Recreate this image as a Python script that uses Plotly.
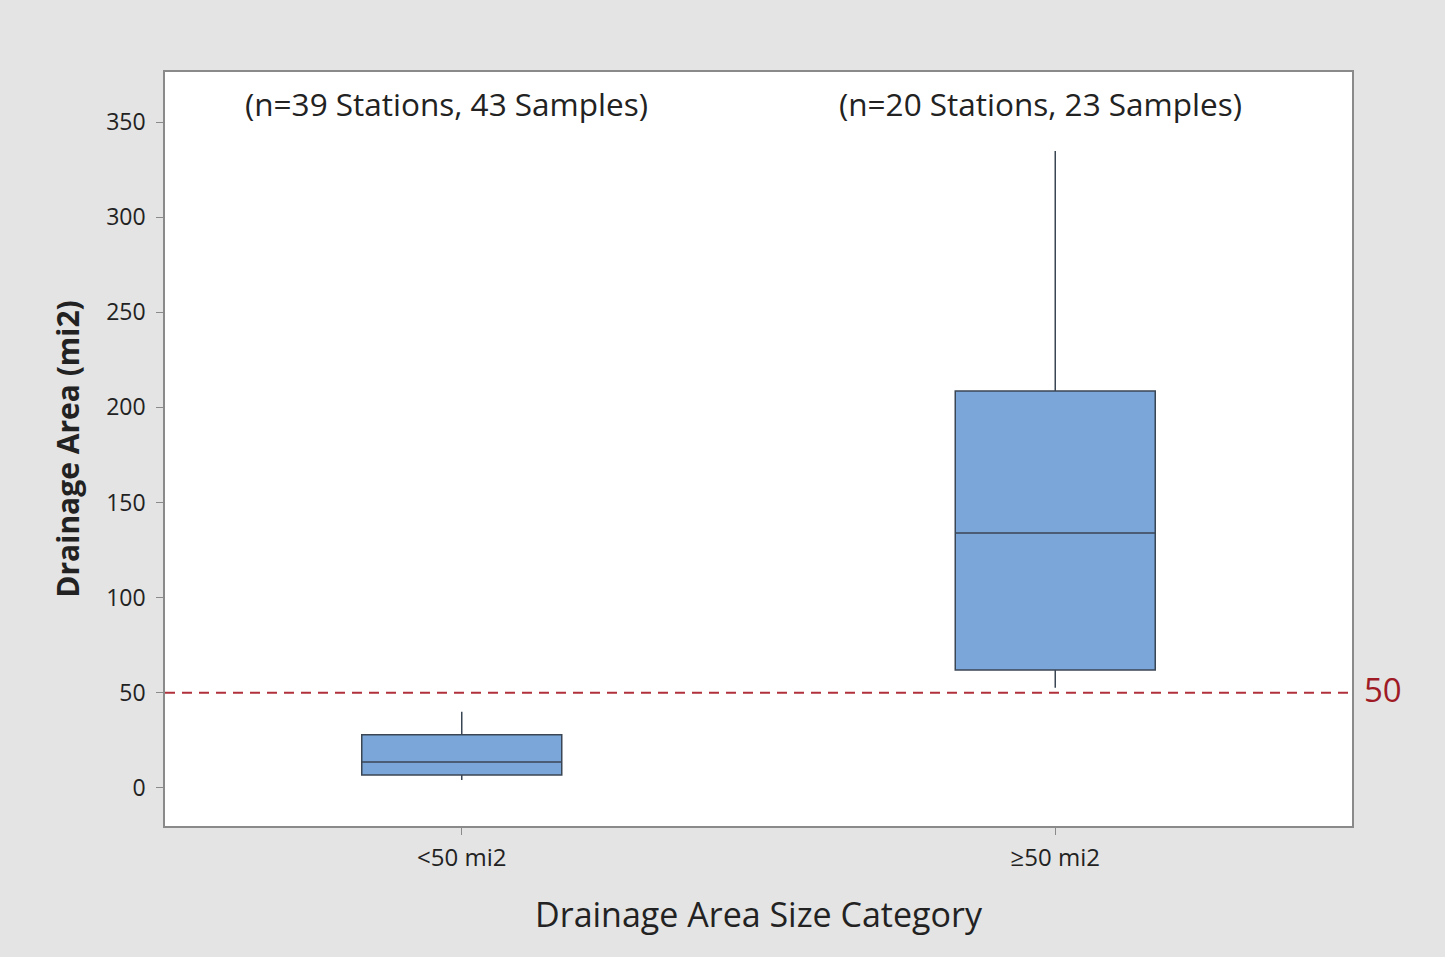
import plotly.graph_objects as go

# Box summary statistics per drainage-area category (mi2)
categories = ["<50 mi2", "≥50 mi2"]
lower_whisker = [4.2, 52.6]
q1 = [6.8, 62.0]
median = [13.7, 134.0]
q3 = [27.9, 208.6]
upper_whisker = [40.0, 334.8]

sample_notes = ["(n=39 Stations, 43 Samples)", "(n=20 Stations, 23 Samples)"]
threshold = 50
y_ticks = [0, 50, 100, 150, 200, 250, 300, 350]

FONT = "Open Sans, Noto Sans, sans-serif"

fig = go.Figure()
for i, cat in enumerate(categories):
    fig.add_trace(go.Box(
        x=[cat],
        q1=[q1[i]], median=[median[i]], q3=[q3[i]],
        lowerfence=[lower_whisker[i]], upperfence=[upper_whisker[i]],
        width=0.337,
        whiskerwidth=0,
        fillcolor="#7ba6da",
        line=dict(color="#3b4654", width=1.5),
        boxpoints=False,
        showlegend=False,
        hoverinfo="skip",
    ))

# Reference line at the 50 mi2 threshold
fig.add_shape(type="line", xref="paper", yref="y", x0=0, x1=1, y0=threshold, y1=threshold,
              line=dict(color="#b0303c", width=2, dash="10px,7px"))
fig.add_annotation(xref="paper", yref="y", x=1.0, y=threshold, xanchor="left", yanchor="middle",
                   xshift=10, yshift=3, text=str(threshold), showarrow=False,
                   font=dict(family=FONT, size=33, color="#9e1b26"))

for cat, note in zip(categories, sample_notes):
    fig.add_annotation(x=cat, xref="x", yref="paper", y=1, yanchor="top", yshift=-8,
                       xshift=-15, text=note, showarrow=False,
                       font=dict(family=FONT, size=31.5, color="#222222"))

fig.update_layout(
    width=1445, height=957,
    margin=dict(l=165, r=93, t=72, b=131),
    paper_bgcolor="#e4e4e4",
    plot_bgcolor="#ffffff",
    font=dict(family=FONT, color="#222222"),
    xaxis=dict(
        type="category", categoryorder="array", categoryarray=categories,
        range=[-0.5, 1.5],
        showline=True, mirror=True, linecolor="#8a8a8a", linewidth=1.5,
        ticks="outside", ticklen=7, tickcolor="#8a8a8a",
        ticklabelstandoff=2,
        tickfont=dict(size=24, color="#222222"),
        title=dict(text="Drainage Area Size Category", font=dict(size=34, color="#222222"), standoff=32),
        showgrid=False,
    ),
    yaxis=dict(
        range=[-20, 376.3],
        tickvals=y_ticks,
        showline=True, mirror=True, linecolor="#8a8a8a", linewidth=1.5,
        ticks="outside", ticklen=7, tickcolor="#8a8a8a",
        ticklabelstandoff=6,
        tickfont=dict(size=23, color="#222222"),
        title=dict(text="<b>Drainage Area (mi2)</b>", font=dict(size=30, color="#222222"), standoff=18),
        showgrid=False, zeroline=False,
    ),
)

fig.write_html("out.html")
